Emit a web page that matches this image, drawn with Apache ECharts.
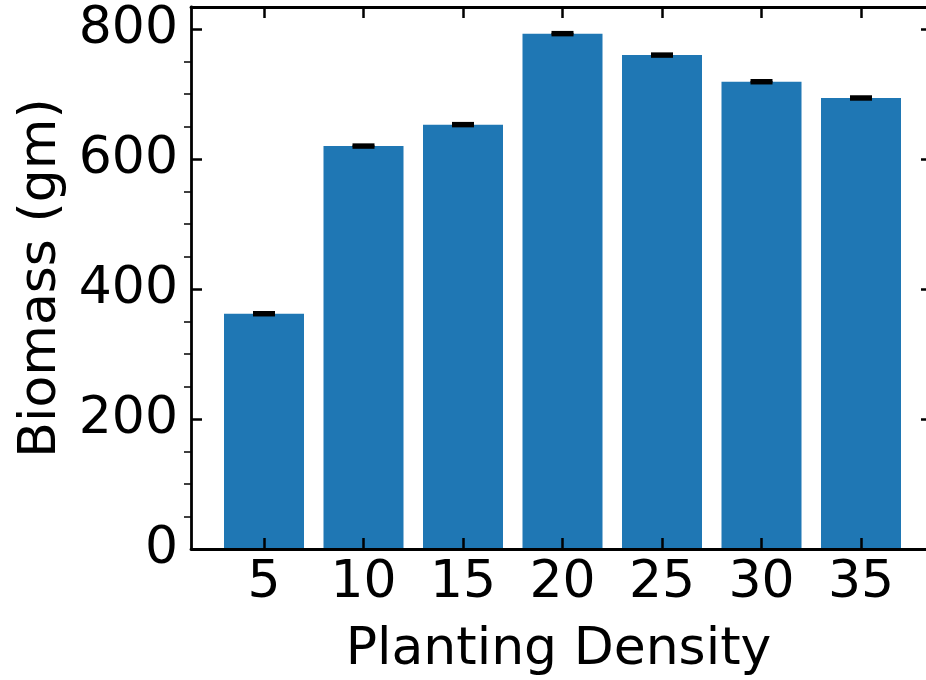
<!DOCTYPE html>
<html>
<head>
<meta charset="utf-8">
<script src="https://cdn.jsdelivr.net/npm/echarts@6/dist/echarts.min.js"></script>
<style>
  html, body { margin: 0; padding: 0; background: #fff; }
  #main { width: 926px; height: 680px; }
</style>
</head>
<body>
<div id="main"></div>
<script>
// data
var densities = ['5', '10', '15', '20', '25', '30', '35'];
var biomass = [362, 620, 653, 793, 760, 719, 694];
var biomassErr = [1.5, 1.5, 1.5, 1.5, 1.5, 1.5, 1.5];
var majorTicks = [0, 200, 400, 600, 800];
var minorTicks = [50, 100, 150, 250, 300, 350, 450, 500, 550, 650, 700, 750];
var yMax = 834;

var FONT = 'DejaVu Sans';
var FS = 52;
var black = '#000';

var chart = echarts.init(document.getElementById('main'));

var errData = [];
for (var i = 0; i < biomass.length; i++) {
    errData.push([i, biomass[i], biomassErr[i]]);
}

// error bar with caps
function renderErr(params, api) {
    var x = api.coord([api.value(0), 0])[0];
    var lo = api.coord([api.value(0), api.value(1) - api.value(2)])[1];
    var hi = api.coord([api.value(0), api.value(1) + api.value(2)])[1];
    var st = {stroke: black, lineWidth: 3.5};
    return {
        type: 'group',
        children: [
            {type: 'line', shape: {x1: x, y1: lo, x2: x, y2: hi}, style: st},
            {type: 'line', shape: {x1: x - 11, y1: hi, x2: x + 11, y2: hi}, style: st},
            {type: 'line', shape: {x1: x - 11, y1: lo, x2: x + 11, y2: lo}, style: st}
        ]
    };
}

function spine() {
    return {show: true, onZero: false, lineStyle: {color: black, width: 2.8}};
}

var option = {
    animation: false,
    textStyle: {fontFamily: FONT},
    grid: [
        // grid for bars (category bands)
        {left: 214.25, right: 15.25, top: 7, bottom: 131, outerBoundsMode: 'none'},
        // frame grid (spines)
        {left: 191, right: 0, top: 7, bottom: 131, outerBoundsMode: 'none'}
    ],
    xAxis: [{
        type: 'category',
        gridIndex: 0,
        position: 'bottom',
        z: 20,
        data: densities,
        axisLine: {show: false, onZero: false},
        axisTick: {show: true, inside: true, alignWithLabel: true, length: 11, lineStyle: {color: black, width: 2.5}},
        axisLabel: {color: black, fontSize: FS, fontFamily: FONT, margin: 8},
        splitLine: {show: false}
    }, {
        type: 'category',
        gridIndex: 0,
        position: 'top',
        z: 20,
        data: densities,
        axisLine: {show: false, onZero: false},
        axisTick: {show: true, inside: true, alignWithLabel: true, length: 11, lineStyle: {color: black, width: 2.5}},
        axisLabel: {show: false},
        splitLine: {show: false}
    }, {
        type: 'value',
        gridIndex: 1,
        position: 'bottom',
        z: 20,
        min: 0,
        max: 1,
        name: 'Planting Density',
        nameLocation: 'middle',
        nameGap: 75,
        nameTextStyle: {color: black, fontSize: FS, fontFamily: FONT},
        axisLine: spine(),
        axisTick: {show: false},
        axisLabel: {show: false},
        splitLine: {show: false}
    }, {
        type: 'value',
        gridIndex: 1,
        position: 'top',
        z: 20,
        min: 0,
        max: 1,
        axisLine: spine(),
        axisTick: {show: false},
        axisLabel: {show: false},
        splitLine: {show: false}
    }],
    yAxis: [{
        type: 'value',
        gridIndex: 0,
        min: 0,
        max: yMax,
        show: false
    }, {
        type: 'value',
        gridIndex: 1,
        position: 'left',
        z: 20,
        min: 0,
        max: yMax,
        name: 'Biomass (gm)',
        nameLocation: 'middle',
        nameGap: 116,
        nameTextStyle: {color: black, fontSize: FS, fontFamily: FONT},
        axisLine: spine(),
        axisTick: {show: true, inside: true, length: 11, customValues: majorTicks, lineStyle: {color: black, width: 2.5}},
        axisLabel: {color: black, fontSize: FS, fontFamily: FONT, margin: 13, customValues: majorTicks},
        splitLine: {show: false}
    }, {
        type: 'value',
        gridIndex: 1,
        position: 'left',
        z: 20,
        min: 0,
        max: yMax,
        axisLine: {show: false, onZero: false},
        axisTick: {show: true, inside: false, length: 7, customValues: minorTicks, lineStyle: {color: black, width: 1.5}},
        axisLabel: {show: false},
        splitLine: {show: false}
    }, {
        // right spine lies just outside the picture, only its inner ticks show
        type: 'value',
        gridIndex: 1,
        position: 'right',
        offset: 6,
        z: 20,
        min: 0,
        max: yMax,
        axisLine: {show: false, onZero: false},
        axisTick: {show: true, inside: true, length: 11, customValues: majorTicks, lineStyle: {color: black, width: 2.5}},
        axisLabel: {show: false},
        splitLine: {show: false}
    }],
    series: [{
        name: 'Biomass',
        type: 'bar',
        xAxisIndex: 0,
        yAxisIndex: 0,
        barWidth: 80,
        itemStyle: {color: '#1f77b4'},
        data: biomass
    }, {
        name: 'Error',
        type: 'custom',
        xAxisIndex: 0,
        yAxisIndex: 0,
        renderItem: renderErr,
        encode: {x: 0, y: 1},
        z: 10,
        data: errData
    }]
};

chart.setOption(option);
</script>
</body>
</html>
